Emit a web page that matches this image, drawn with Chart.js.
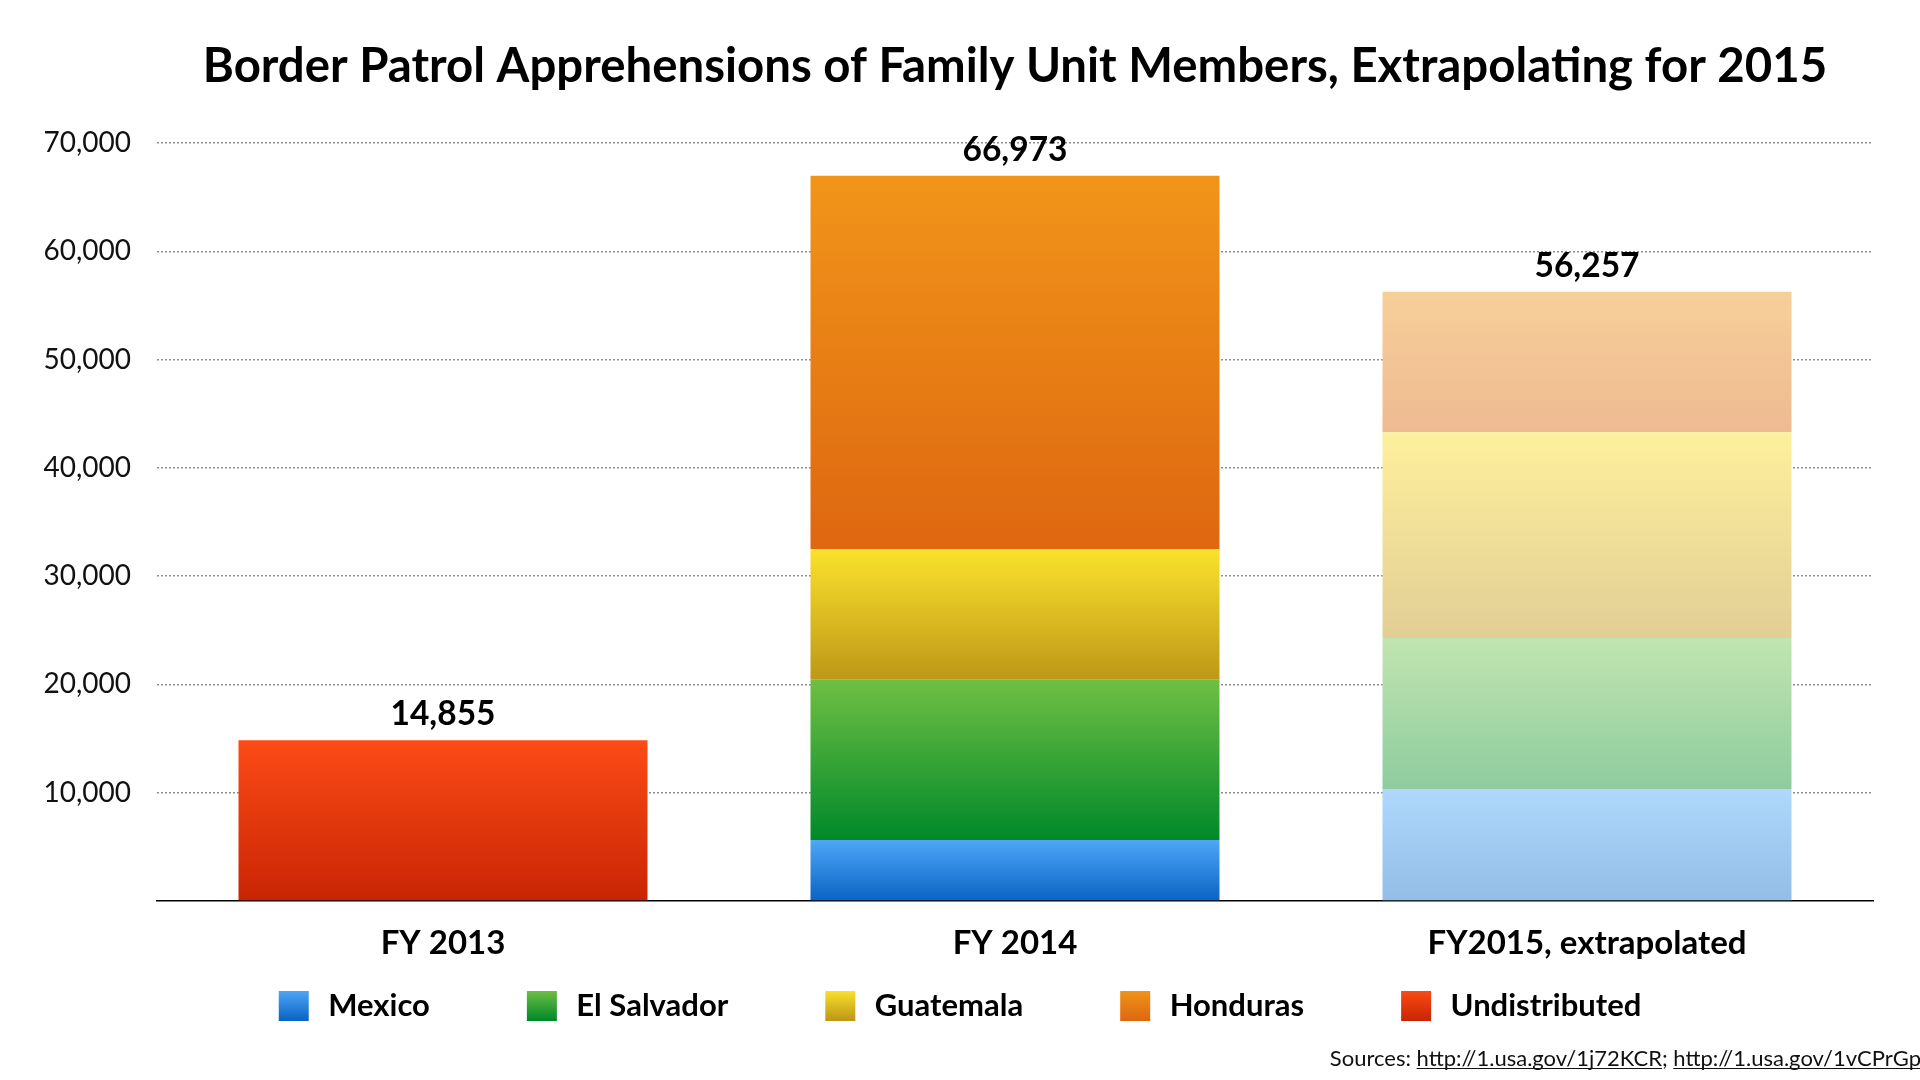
<!DOCTYPE html>
<html>
<head>
<meta charset="utf-8">
<script src="https://cdn.jsdelivr.net/npm/chart.js@4.4.1/dist/chart.umd.min.js"></script>
<style>
  html, body { margin: 0; padding: 0; background: #ffffff; }
  #wrap { width: 1920px; height: 1080px; }
</style>
</head>
<body>
<div id="wrap"><canvas id="c" width="1920" height="1080" style="width:1920px;height:1080px"></canvas></div>
<script>
// ---------------- data ----------------
const categories = ['FY 2013', 'FY 2014', 'FY2015, extrapolated'];
const seriesNames = ['Mexico', 'El Salvador', 'Guatemala', 'Honduras', 'Undistributed'];
const mexico        = [null, 5639, 10340];
const elSalvador    = [null, 14833, 13950];
const guatemala     = [null, 12006, 18990];
const honduras      = [null, 34495, 12977];
const undistributed = [14855, null, null];
const totals        = [14855, 66973, 56257];
const yTickValues   = [0, 10000, 20000, 30000, 40000, 50000, 60000, 70000];
const titleText = 'Border Patrol Apprehensions of Family Unit Members, Extrapolating for 2015';
const sourcesLabel = 'Sources: ';
const sourceLinks = ['http://1.usa.gov/1j72KCR', 'http://1.usa.gov/1vCPrGp'];

const seriesData = [mexico, elSalvador, guatemala, honduras, undistributed];

// ---------------- styles ----------------
const FONT = 'Lato, "Open Sans", "DejaVu Sans", sans-serif';
const fullColors = [
  ['#4ea7f7', '#0b63c4'],
  ['#6fc043', '#00892a'],
  ['#fbe22b', '#bd9718'],
  ['#f19519', '#de6710'],
  ['#fc4b16', '#c92504']
];
const fadedColors = [
  ['#b0d8fd', '#92bde6'],
  ['#c1e5b0', '#8ecc9f'],
  ['#fdf09c', '#e2ce95'],
  ['#f7cf98', '#eeba92'],
  ['#fdb9a2', '#e9a89b']
];
const FADED_INDEX = 2;

const LEGEND_GAP_EXTRA = 92;       // transparent lead-in of each legend swatch
const PAD_RIGHT = 47, PAD_LEFT = PAD_RIGHT - LEGEND_GAP_EXTRA, PAD_BOTTOM = 49;
const PLOT_LEFT = 157;
const SWATCH = 30, SWATCH_TEXT_GAP = 4;
const SWATCH_W = LEGEND_GAP_EXTRA + SWATCH + SWATCH_TEXT_GAP;
const XLABEL_SIZE = 33;

// title size fitted to reference width
const mctx = document.createElement('canvas').getContext('2d');
mctx.font = 'bold 44px ' + FONT;
const titleSize = Math.max(36, Math.min(50, 44 * 1625 / mctx.measureText(titleText).width));

// legend swatch images (vertical gradient)
const swatches = fullColors.map(([top, bottom]) => {
  const cv = document.createElement('canvas');
  cv.width = SWATCH_W; cv.height = SWATCH;
  const c = cv.getContext('2d');
  const g = c.createLinearGradient(0, 0, 0, SWATCH);
  g.addColorStop(0, top); g.addColorStop(1, bottom);
  c.fillStyle = g;
  c.fillRect(LEGEND_GAP_EXTRA, 0, SWATCH, SWATCH);
  return cv;
});

function segmentFill(ctx) {
  const i = ctx.datasetIndex;
  if (ctx.type !== 'data') return fullColors[i][0];
  const j = ctx.dataIndex;
  const cols = (j === FADED_INDEX ? fadedColors : fullColors)[i];
  const chart = ctx.chart;
  const y = chart.scales && chart.scales.y;
  if (!y || !chart.chartArea) return cols[0];
  let base = 0;
  for (let k = 0; k < i; k++) base += seriesData[k][j] || 0;
  const top = base + (seriesData[i][j] || 0);
  const y0 = y.getPixelForValue(top), y1 = y.getPixelForValue(base);
  if (!isFinite(y0) || !isFinite(y1) || y0 === y1) return cols[0];
  const g = chart.ctx.createLinearGradient(0, y0, 0, y1);
  g.addColorStop(0, cols[0]);
  g.addColorStop(1, cols[1]);
  return g;
}

const totalsPlugin = {
  id: 'totals',
  afterDatasetsDraw(chart) {
    const { ctx, scales: { x, y } } = chart;
    ctx.save();
    ctx.font = 'bold 33.5px ' + FONT;
    ctx.fillStyle = '#000';
    ctx.textAlign = 'center';
    ctx.textBaseline = 'middle';
    totals.forEach((t, j) => {
      ctx.fillText(t.toLocaleString('en-US'), x.getPixelForValue(j), y.getPixelForValue(t) - 26);
    });
    ctx.restore();
  }
};

const sourcesPlugin = {
  id: 'sources',
  afterDraw(chart) {
    const ctx = chart.ctx;
    ctx.save();
    ctx.font = '22px ' + FONT;
    ctx.fillStyle = '#111';
    ctx.strokeStyle = '#111';
    ctx.lineWidth = 1;
    ctx.textBaseline = 'alphabetic';
    ctx.textAlign = 'left';
    const parts = [
      { t: sourcesLabel, u: false },
      { t: sourceLinks[0], u: true },
      { t: '; ', u: false },
      { t: sourceLinks[1], u: true }
    ];
    const total = parts.reduce((s, p) => s + ctx.measureText(p.t).width, 0);
    let x = 1921 - total;
    const yb = 1066;
    parts.forEach(p => {
      const w = ctx.measureText(p.t).width;
      ctx.fillText(p.t, x, yb);
      if (p.u) {
        ctx.beginPath();
        ctx.moveTo(x, yb + 2.5);
        ctx.lineTo(x + w, yb + 2.5);
        ctx.stroke();
      }
      x += w;
    });
    ctx.restore();
  }
};

Chart.defaults.font.family = FONT;
Chart.defaults.color = '#000';

new Chart(document.getElementById('c'), {
  type: 'bar',
  data: {
    labels: categories,
    datasets: seriesNames.map((name, i) => ({
      label: name,
      data: seriesData[i],
      backgroundColor: segmentFill,
      borderWidth: 0,
      categoryPercentage: 1.0,
      barPercentage: 0.715
    }))
  },
  options: {
    responsive: false,
    animation: false,
    layout: { padding: { left: PAD_LEFT, right: PAD_RIGHT, top: 0, bottom: PAD_BOTTOM } },
    scales: {
      x: {
        stacked: true,
        z: 1,
        grid: { display: false, drawTicks: false },
        border: { display: true, color: '#000', width: 1.5 },
        ticks: {
          font: { size: XLABEL_SIZE, weight: 'bold', lineHeight: 1.2 },
          color: '#000',
          padding: 42 - 0.6 * XLABEL_SIZE
        }
      },
      y: {
        stacked: true,
        min: 0,
        max: 70000,
        afterBuildTicks: (s) => { s.ticks = yTickValues.map(v => ({ value: v })); },
        afterFit: (s) => { s.width = PLOT_LEFT - PAD_LEFT; },
        grid: {
          drawTicks: false,
          lineWidth: 1.5,
          color: (c) => (c.tick && c.tick.value === 0) ? 'rgba(0,0,0,0)' : '#8d8d8d'
        },
        border: { display: false, dash: [2, 2] },
        ticks: {
          font: { size: 28 },
          color: '#111',
          padding: 26,
          callback: (v) => v === 0 ? '' : Number(v).toLocaleString('en-US')
        }
      }
    },
    plugins: {
      title: {
        display: true,
        text: titleText,
        fullSize: false,
        color: '#000',
        font: { size: titleSize, weight: 'bold', lineHeight: 1.2 },
        padding: { top: 67 - 0.6 * titleSize, bottom: 76 - 0.6 * titleSize }
      },
      legend: {
        display: true,
        position: 'bottom',
        align: 'center',
        labels: {
          usePointStyle: true,
          pointStyleWidth: SWATCH_W,
          boxHeight: SWATCH,
          padding: 5,
          color: '#000',
          font: { size: 31, weight: 'bold' },
          generateLabels: () => seriesNames.map((name, i) => ({
            text: name,
            fillStyle: fullColors[i][0],
            strokeStyle: 'rgba(0,0,0,0)',
            lineWidth: 0,
            pointStyle: swatches[i],
            hidden: false,
            datasetIndex: i,
            fontColor: '#000'
          }))
        }
      },
      tooltip: { enabled: false }
    }
  },
  plugins: [totalsPlugin, sourcesPlugin]
});
</script>
</body>
</html>
